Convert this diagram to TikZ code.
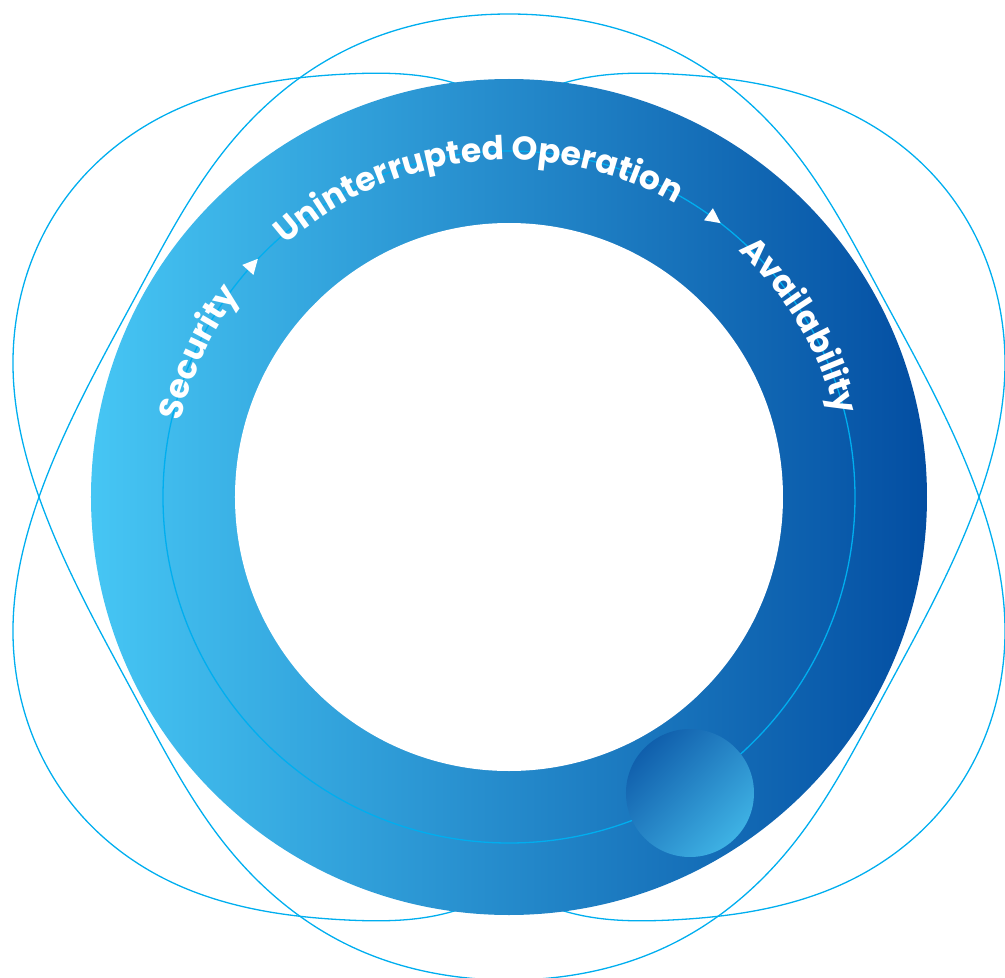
\documentclass[tikz,border=0pt]{standalone}
\usepackage{fontspec}
\newfontfamily\lblfont{Poppins}
\usetikzlibrary{decorations.text,shadings,hobby}
\definecolor{ringL}{RGB}{70,198,244}
\definecolor{ringR}{RGB}{3,78,162}
\definecolor{lineC}{RGB}{0,174,239}
\definecolor{ballD}{RGB}{6,78,160}
\definecolor{ballL}{RGB}{72,196,240}
\definecolor{ballM}{RGB}{40,135,200}
\newcommand{\lbltxt}{\lblfont\bfseries\fontsize{33}{33}\selectfont}
\newcommand{\heartpath}{%
\draw[outerline, use Hobby shortcut, closed=true] (0,483) .. (-161,448) .. (-276,357) .. (-372,203) .. (-470,0) .. (-496,-131) .. (-444,-298) .. (-342,-383) .. (-162,-423) .. (-62,-416) .. (0,-402) .. (62,-416) .. (162,-423) .. (342,-383) .. (444,-298) .. (496,-131) .. (470,0) .. (372,203) .. (276,357) .. (161,448);}
\begin{document}
\begin{tikzpicture}[x=1pt,y=1pt,
  outerline/.style={draw=lineC, line width=1.3pt},
  ringline/.style={draw=lineC, line width=1.3pt},
  arrowtri/.style={fill=white},
  lbl/.style={decorate, decoration={text along path, text align=center, text color=white, text={|\lbltxt|#1}}}]
\useasboundingbox (-509,-481) rectangle (496,497);
\clip (-509,-481) rectangle (496,497);
% outer curves
\heartpath
\begin{scope}[yscale=-1]
\heartpath
\end{scope}
% ring
\shade[left color=ringL, right color=ringR] (0,0) circle (418pt);
\fill[white] (0,0) circle (274pt);
% ring line
\draw[ringline] (0,0) circle (346pt);
% labels
\path[lbl=Security] (166.5:337pt) arc[start angle=166.5, end angle=143.5, radius=337pt];
\path[lbl={Uninterrupted Operation}] (132:337pt) arc[start angle=132, end angle=60, radius=337pt];
\path[lbl=Availability] (46.5:337pt) arc[start angle=46.5, end angle=14.5, radius=337pt];
% arrows
\fill[arrowtri, shift={(138:346pt)}, rotate=48] (9,0) -- (-6,7.5) -- (-6,-7.5) -- cycle;
\fill[arrowtri, shift={(53.8:346pt)}, rotate=-36.2] (9,0) -- (-6,7.5) -- (-6,-7.5) -- cycle;
% ball
\shade[upper left=ballD, lower right=ballL, upper right=ballM, lower left=ballM] (181,-296) circle (64pt);
\end{tikzpicture}
\end{document}
